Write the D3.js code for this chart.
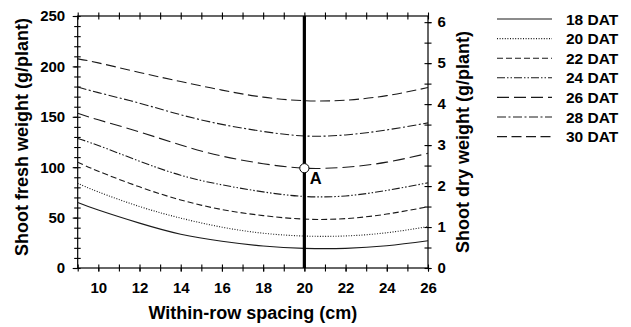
<!DOCTYPE html>
<html><head><meta charset="utf-8">
<script src="https://cdn.jsdelivr.net/npm/d3@7"></script>
<style>
body{margin:0;background:#fff}
text{font-family:"Liberation Sans",Arial,sans-serif;font-weight:bold;fill:#000}
</style>
</head><body>
<svg id="chart" width="631" height="327"></svg>
<script>
// ---- data ----
const spacing = [9, 10, 12, 14, 16, 18, 20, 22, 24, 26];
const seriesNames = ["18 DAT", "20 DAT", "22 DAT", "24 DAT", "26 DAT", "28 DAT", "30 DAT"];
const dat18 = [65, 57.5, 44.5, 33.5, 26.5, 21.8, 19.5, 19.5, 22, 27];
const dat20 = [84, 75.5, 61, 49.5, 40.5, 34.5, 31.7, 31.8, 35, 41];
const dat22 = [105, 96, 80.5, 67.5, 58, 52, 48.5, 49, 53.5, 60.8];
const dat24 = [128.5, 121.5, 106, 92, 82.5, 75.5, 71, 71.5, 77, 84.5];
const dat26 = [153.5, 147, 135, 122, 111, 103.5, 99, 100, 105, 113.8];
const dat28 = [179.5, 174, 163.5, 152, 142.5, 135.5, 131, 132, 137, 144];
const dat30 = [207.5, 203.5, 194, 185, 176.5, 169.5, 166, 166.5, 171, 179];
const xTicks = [10, 12, 14, 16, 18, 20, 22, 24, 26];
const xMinorTicks = [9, 10, 11, 12, 13, 14, 15, 16, 17, 18, 19, 20, 21, 22, 23, 24, 25, 26];
const freshTicks = [0, 50, 100, 150, 200, 250];
const freshMinorTicks = d3.range(0, 251, 10);
const dryTicks = [0, 1, 2, 3, 4, 5, 6];
const dryMinorTicks = d3.range(0, 6.01, 0.5);
const freshMax = 250;
const dryMax = 6.15;
const xDomain = [9, 26];
const refSpacing = 20;
const pointA = {x: 20, y: 99, label: "A"};

const allSeries = [dat18, dat20, dat22, dat24, dat26, dat28, dat30];
const dashes = ["none", "1,1.6", "6,3", "8,2,1.5,2,1.5,2", "12,5", "9,2.5,2,2.5", "10,4.5"];

// ---- layout ----
const svg = d3.select("#chart");
const L = 77.7, R = 428, T = 16, B = 268;
const x = d3.scaleLinear().domain(xDomain).range([L, R]);
const y = d3.scaleLinear().domain([0, freshMax]).range([B, T]);
const y2 = d3.scaleLinear().domain([0, dryMax]).range([B, T]);

// frame
svg.append("rect").attr("x", L).attr("y", T).attr("width", R - L).attr("height", B - T)
  .attr("fill", "none").attr("stroke", "#000").attr("stroke-width", 1.2);

function styleAxis(g) {
  g.select(".domain").remove();
  g.selectAll("line").attr("stroke", "#000").attr("stroke-width", 1.1);
  g.selectAll("text").attr("font-size", 15).attr("font-family", "Liberation Sans, Arial, sans-serif").attr("font-weight", "bold");
}

// left axis: outward + inward ticks
svg.append("g").attr("transform", `translate(${L},0)`)
  .call(d3.axisLeft(y).tickValues(freshMinorTicks).tickSize(3.5).tickFormat("")).call(styleAxis);
svg.append("g").attr("transform", `translate(${L},0)`)
  .call(d3.axisLeft(y).tickValues(freshTicks).tickSize(5).tickPadding(7.5).tickFormat(d3.format("d"))).call(styleAxis);
svg.append("g").attr("transform", `translate(${L},0)`)
  .call(d3.axisRight(y).tickValues(freshMinorTicks).tickSize(3).tickFormat("")).call(styleAxis);

// right axis
svg.append("g").attr("transform", `translate(${R},0)`)
  .call(d3.axisRight(y2).tickValues(dryMinorTicks).tickSize(3.5).tickFormat("")).call(styleAxis);
svg.append("g").attr("transform", `translate(${R},0)`)
  .call(d3.axisRight(y2).tickValues(dryTicks).tickSize(3.5).tickPadding(6).tickFormat(d3.format("d"))).call(styleAxis);
svg.append("g").attr("transform", `translate(${R},0)`)
  .call(d3.axisLeft(y2).tickValues(dryMinorTicks).tickSize(3.5).tickFormat("")).call(styleAxis);

// bottom axis
svg.append("g").attr("transform", `translate(0,${B})`)
  .call(d3.axisBottom(x).tickValues(xMinorTicks).tickSize(3.5).tickFormat("")).call(styleAxis);
svg.append("g").attr("transform", `translate(0,${B})`)
  .call(d3.axisBottom(x).tickValues(xTicks).tickSize(3.5).tickPadding(10.5).tickFormat(d3.format("d"))).call(styleAxis);
svg.append("g").attr("transform", `translate(0,${B})`)
  .call(d3.axisTop(x).tickValues(xMinorTicks).tickSize(3.5).tickFormat("")).call(styleAxis);
// top axis
svg.append("g").attr("transform", `translate(0,${T})`)
  .call(d3.axisTop(x).tickValues(xMinorTicks).tickSize(3.5).tickFormat("")).call(styleAxis);
svg.append("g").attr("transform", `translate(0,${T})`)
  .call(d3.axisBottom(x).tickValues(xMinorTicks).tickSize(3.5).tickFormat("")).call(styleAxis);

// curves
const line = d3.line().x((d, i) => x(spacing[i])).y(d => y(d)).curve(d3.curveNatural);
allSeries.forEach((s, k) => {
  svg.append("path").datum(s).attr("d", line).attr("fill", "none")
    .attr("stroke", "#1a1a1a").attr("stroke-width", 1.1)
    .attr("stroke-dasharray", dashes[k]);
});

// reference line at 20 cm
svg.append("line").attr("x1", x(refSpacing)).attr("x2", x(refSpacing))
  .attr("y1", y(0)).attr("y2", y(freshMax)).attr("stroke", "#000").attr("stroke-width", 3.2);

// point A
svg.append("circle").attr("cx", x(pointA.x)).attr("cy", y(pointA.y)).attr("r", 4.6)
  .attr("fill", "#fff").attr("stroke", "#000").attr("stroke-width", 1);
svg.append("text").attr("x", x(pointA.x) + 5.5).attr("y", y(pointA.y) + 16)
  .attr("font-size", 16.5).text(pointA.label);

// axis titles
svg.append("text").attr("x", (L + R) / 2).attr("y", 318.5).attr("text-anchor", "middle")
  .attr("font-size", 18).text("Within-row spacing (cm)");
svg.append("text").attr("transform", "translate(28,137) rotate(-90)").attr("text-anchor", "middle")
  .attr("font-size", 18).text("Shoot fresh weight (g/plant)");
svg.append("text").attr("transform", "translate(469,142) rotate(-90)").attr("text-anchor", "middle")
  .attr("font-size", 18).text("Shoot dry weight (g/plant)");

// legend
const lg = svg.append("g");
seriesNames.forEach((name, k) => {
  const cy = 19 + k * 19.6;
  lg.append("line").attr("x1", 497).attr("x2", 552).attr("y1", cy).attr("y2", cy)
    .attr("stroke", "#1a1a1a").attr("stroke-width", 1.1).attr("stroke-dasharray", dashes[k]);
  lg.append("text").attr("x", 566).attr("y", cy + 5.5).attr("font-size", 15.5).text(name);
});
</script>
</body></html>
